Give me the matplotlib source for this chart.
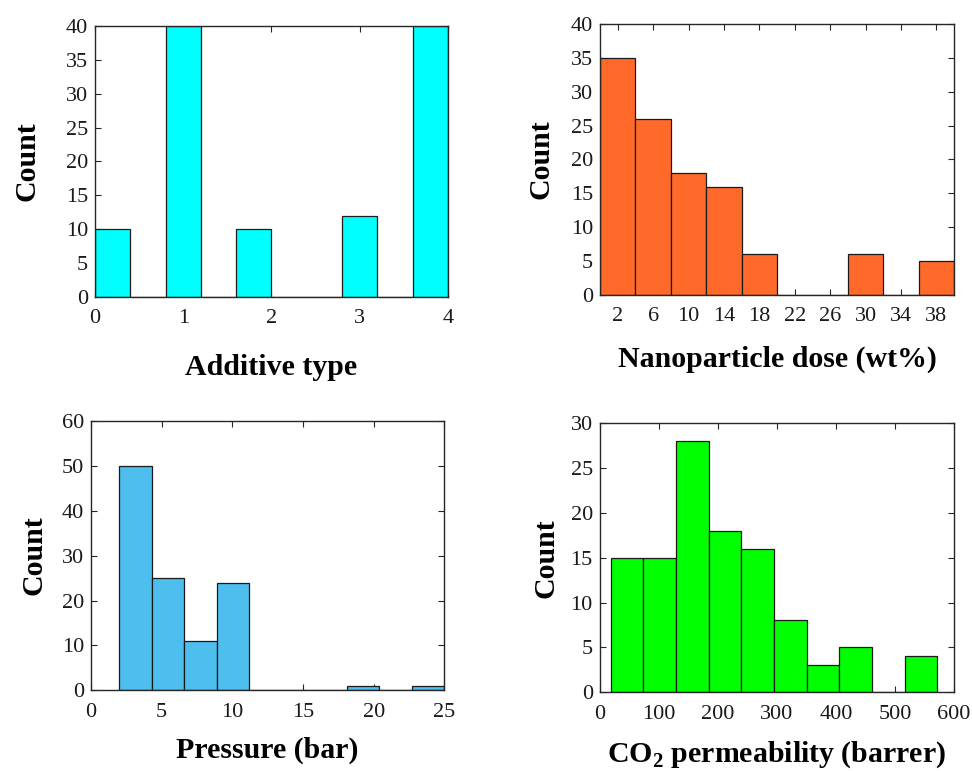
import numpy as np
import matplotlib
matplotlib.use("Agg")
import matplotlib.pyplot as plt

plt.rcParams["font.family"] = ["Liberation Serif", "DejaVu Serif"]
plt.rcParams["mathtext.fontset"] = "custom"
plt.rcParams["mathtext.rm"] = "Liberation Serif"
plt.rcParams["mathtext.bf"] = "Liberation Serif:bold"

# Additive type histogram
additive_range = (0, 4)
additive_counts = [10, 0, 40, 0, 10, 0, 0, 12, 0, 40]
additive_ticks = [0, 1, 2, 3, 4]

# Nanoparticle dose histogram (wt%)
dose_range = (0, 40)
dose_counts = [35, 26, 18, 16, 6, 0, 0, 6, 0, 5]
dose_ticks = [2, 6, 10, 14, 18, 22, 26, 30, 34, 38]

# Pressure histogram (bar)
pressure_range = (2, 25)
pressure_counts = [50, 25, 11, 24, 0, 0, 0, 1, 0, 1]
pressure_ticks = [0, 5, 10, 15, 20, 25]

# CO2 permeability histogram (barrer)
perm_range = (18.5, 571.7)
perm_counts = [15, 15, 28, 18, 16, 8, 3, 5, 0, 4]
perm_ticks = [0, 100, 200, 300, 400, 500, 600]

AX_COLOR = "#262626"
TICK_FS = 16
LABEL_FS = 21.5

fig = plt.figure(figsize=(9.72, 7.71), dpi=100)


def hist_panel(rect, rng, counts, color, xlim, ylim, xticks, yticks,
               xlabel, ylab_x, xlab_y):
    ax = fig.add_axes(rect)
    edges = np.linspace(rng[0], rng[1], len(counts) + 1)
    ax.bar(edges[:-1], counts, width=np.diff(edges), align="edge",
           color=color, edgecolor="#1a1a1a", linewidth=0.9, zorder=2)
    ax.set_xlim(*xlim)
    ax.set_ylim(*ylim)
    ax.set_xticks(xticks)
    ax.set_yticks(yticks)
    ax.tick_params(direction="in", length=4, width=0.8, color=AX_COLOR,
                   top=True, right=True, labelsize=TICK_FS,
                   labelcolor="#1a1a1a")
    ax.tick_params(axis="x", pad=9)
    ax.tick_params(axis="y", pad=5)
    for s in ax.spines.values():
        s.set_color(AX_COLOR)
        s.set_linewidth(1.0)
        s.set_zorder(3)
    ax.set_ylabel("Count", fontsize=LABEL_FS, fontweight="bold",
                  va="baseline")
    ax.yaxis.set_label_coords(ylab_x, 0.5)
    ax.set_xlabel(xlabel, fontsize=LABEL_FS, fontweight="bold",
                  va="baseline")
    ax.xaxis.set_label_coords(0.5, xlab_y)
    return ax


hist_panel([0.0977, 0.6148, 0.3632, 0.3515], additive_range, additive_counts,
           "#00ffff", (0, 4), (0, 40), additive_ticks, range(0, 41, 5),
           "Additive type", -0.171, -0.288)

hist_panel([0.6173, 0.6174, 0.3642, 0.3515], dose_range, dose_counts,
           "#ff6a2b", (0, 40), (0, 40), dose_ticks, range(0, 41, 5),
           "Nanoparticle dose (wt%)", -0.146, -0.266)

hist_panel([0.0936, 0.1047, 0.3635, 0.3493], pressure_range, pressure_counts,
           "#4dbeee", (0, 25), (0, 60), pressure_ticks, range(0, 61, 10),
           "Pressure (bar)", -0.14, -0.251)

hist_panel([0.6170, 0.1021, 0.3645, 0.3493], perm_range, perm_counts,
           "#00ff00", (0, 600), (0, 30), perm_ticks, range(0, 31, 5),
           r"CO$_\mathbf{2}$ permeability (barrer)", -0.131, -0.259)

fig.savefig("out.png", dpi=100, facecolor="white")
